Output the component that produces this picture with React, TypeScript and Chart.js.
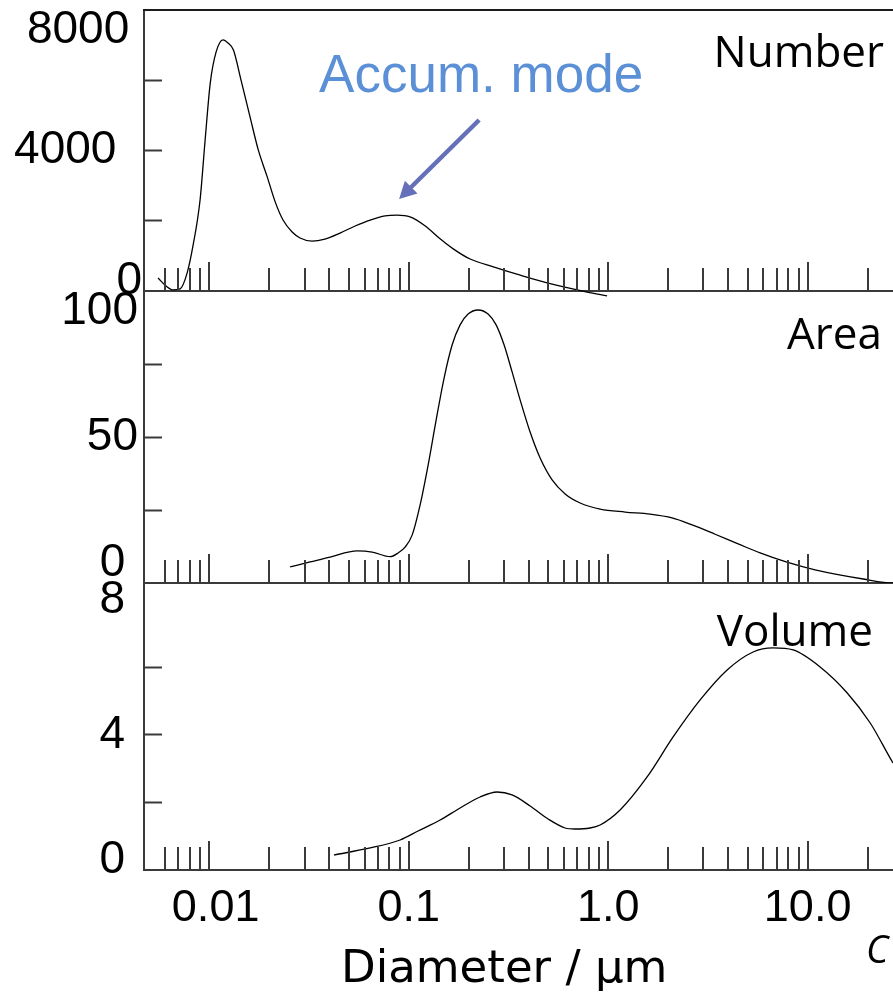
import React, { useEffect, useRef } from 'react';
import { Chart, registerables } from 'chart.js';

Chart.register(...registerables);

// ---------------- data ----------------
const X_MIN = 0.0047;
const X_MAX = 26.8;

const X_TICK_VALUES = [0.01, 0.1, 1, 10];
const X_TICK_LABELS = ['0.01', '0.1', '1.0', '10.0'];
const X_TITLE = 'Diameter / μm';

const PANEL_NAMES = ['Number', 'Area', 'Volume'];

// Number distribution (diameter in µm, count)
const NUMBER_DIAM = [0.00553, 0.00607, 0.00658, 0.00713, 0.00773, 0.00829, 0.00898, 0.00952, 0.0101, 0.0108,
  0.0117, 0.0124, 0.0132, 0.0144, 0.016, 0.0176, 0.0195, 0.0214, 0.0234, 0.026,
  0.0285, 0.0327, 0.038, 0.0452, 0.0538, 0.064, 0.0761, 0.0874, 0.1015, 0.121,
  0.144, 0.167, 0.203, 0.268, 0.362, 0.494, 0.784, 0.987];
const NUMBER_VAL = [370, 140, 30, 60, 510, 1310, 2590, 4300, 5920, 6800,
  7150, 7060, 6860, 6010, 4950, 4010, 3250, 2530, 2020, 1680,
  1510, 1420, 1480, 1650, 1850, 2020, 2140, 2160, 2110, 1850,
  1480, 1200, 910, 680, 450, 230, -30, -140];

// Area distribution
const AREA_DIAM = [0.0254, 0.032, 0.0403, 0.0551, 0.0655, 0.0806, 0.0884, 0.0958, 0.1039, 0.1139,
  0.125, 0.1371, 0.1503, 0.1649, 0.1808, 0.1983, 0.2226, 0.2498, 0.2741, 0.3006,
  0.3296, 0.3616, 0.4058, 0.4556, 0.5233, 0.608, 0.723, 0.911, 1.216, 1.623,
  2.092, 2.636, 3.437, 4.482, 5.78, 7.8, 10.9, 19.0, 26.8, 35];
const AREA_VAL = [5.5, 7.2, 8.9, 11.0, 10.6, 9.0, 10.3, 12.3, 16.4, 26.7,
  40.4, 55.8, 70.2, 81.5, 88.4, 92.1, 93.5, 92.1, 88.4, 81.5,
  72.3, 62.7, 51.7, 42.8, 35.3, 30.5, 27.4, 25.3, 24.3, 23.6,
  22.3, 19.9, 16.7, 13.4, 10.3, 7.2, 4.5, 1.37, 0, 0];

// Volume distribution
const VOLUME_DIAM = [0.0422, 0.064, 0.0905, 0.1113, 0.1436, 0.1808, 0.2278, 0.2773, 0.3296, 0.4058,
  0.4997, 0.608, 0.6815, 0.8102, 0.911, 1.147, 1.567, 2.116, 2.89, 3.948,
  5.33, 6.71, 8.46, 11.55, 15.8, 20.6, 26.8, 35];
const VOLUME_VAL = [0.444, 0.652, 0.889, 1.155, 1.481, 1.836, 2.162, 2.31, 2.222, 1.896,
  1.511, 1.244, 1.214, 1.244, 1.333, 1.777, 2.755, 3.94, 5.036, 5.924,
  6.457, 6.576, 6.517, 6.013, 5.243, 4.354, 3.169, 2.1];

// y axes
const NUMBER_Y_MAX = 8000;
const NUMBER_Y_STEP = 2000;
const NUMBER_Y_TICKS = [0, 4000, 8000];
const NUMBER_Y_LABELS = ['0', '4000', '8000'];

const AREA_Y_MAX = 100;
const AREA_Y_STEP = 25;
const AREA_Y_TICKS = [0, 50, 100];
const AREA_Y_LABELS = ['0', '50', '100'];

const VOLUME_Y_MAX = 8.5;
const VOLUME_Y_STEP = 2;
const VOLUME_Y_TICKS = [0, 4, 8];
const VOLUME_Y_LABELS = ['0', '4', '8'];

// annotation
const NOTE_TEXT = 'Accum. mode';
const NOTE_AT = [0.2305, 5666];
const ARROW_FROM = [0.2253, 4868];
const ARROW_TO = [0.0894, 2619];

// ---------------- styles ----------------
const AXIS_COLOR = '#3a3a3a';
const TOP_COLOR = '#1c1c1c';
const TICK_FONT = "'Liberation Sans', Arial, sans-serif";
const TITLE_FONT = "'DejaVu Sans', sans-serif";
const NAME_FONT = "'Open Sans', sans-serif";
const NOTE_FONT = "'Liberation Sans', Arial, sans-serif";
const NOTE_COLOR = '#5b8fd6';
const ARROW_COLOR = '#6670b8';
// leading spaces for x labels (horizontal nudge, as in the reference)
const X_LABEL_LEAD = [1, 0, 0, 0];

function xLabel(v: number): string {
  const i = X_TICK_VALUES.findIndex((t) => Math.abs(v / t - 1) < 1e-6);
  return i >= 0 ? ' '.repeat(X_LABEL_LEAD[i]) + X_TICK_LABELS[i] : '';
}

// vertical nudge: blank lines before (positive) / after (negative) move a label down / up;
// trailing spaces move a right-aligned label left
function nudge(text: string, n: number, trail: number): string | string[] {
  const t = text + ' '.repeat(trail);
  if (n === 0) return t;
  const blanks = Array(Math.abs(n)).fill('');
  return n > 0 ? [...blanks, t] : [t, ...blanks];
}

type Decor = { name: string; dx: number; dy: number; note?: boolean };

function makeDecor(d: Decor) {
  return {
    id: 'decor',
    afterDatasetsDraw(chart: any) {
      const { ctx, chartArea: ca, scales } = chart;
      const xs = scales.x;
      const ys = scales.y;
      ctx.save();
      // inward x tick marks at the panel baseline
      ctx.strokeStyle = AXIS_COLOR;
      ctx.lineWidth = 2;
      for (const t of xs.ticks) {
        const v = t.value;
        if (!(v > 0)) continue;
        const e = Math.floor(Math.log10(v) + 1e-9);
        const sig = v / Math.pow(10, e);
        const r = Math.round(sig);
        if (Math.abs(sig - r) > 1e-6 || r < 1 || r > 9) continue;
        const px = Math.round(xs.getPixelForValue(v));
        const len = r === 1 ? 29 : 23;
        ctx.beginPath();
        ctx.moveTo(px, ca.bottom);
        ctx.lineTo(px, ca.bottom - len);
        ctx.stroke();
      }
      // panel name
      ctx.fillStyle = '#000';
      ctx.font = `44px ${NAME_FONT}`;
      ctx.textAlign = 'right';
      ctx.textBaseline = 'alphabetic';
      ctx.fillText(d.name, ca.right - d.dx, ca.top + d.dy);
      if (d.note) {
        ctx.font = `53px ${NOTE_FONT}`;
        ctx.fillStyle = NOTE_COLOR;
        ctx.textAlign = 'center';
        ctx.fillText(NOTE_TEXT, xs.getPixelForValue(NOTE_AT[0]), ys.getPixelForValue(NOTE_AT[1]));
        const x1 = xs.getPixelForValue(ARROW_FROM[0]);
        const y1 = ys.getPixelForValue(ARROW_FROM[1]);
        const x2 = xs.getPixelForValue(ARROW_TO[0]);
        const y2 = ys.getPixelForValue(ARROW_TO[1]);
        const ang = Math.atan2(y2 - y1, x2 - x1);
        const head = 17;
        const hw = 9;
        const bx = x2 - head * Math.cos(ang);
        const by = y2 - head * Math.sin(ang);
        ctx.strokeStyle = ARROW_COLOR;
        ctx.lineWidth = 4.5;
        ctx.beginPath();
        ctx.moveTo(x1, y1);
        ctx.lineTo(bx + Math.cos(ang), by + Math.sin(ang));
        ctx.stroke();
        ctx.fillStyle = ARROW_COLOR;
        ctx.beginPath();
        ctx.moveTo(x2, y2);
        ctx.lineTo(bx + hw * Math.sin(ang), by - hw * Math.cos(ang));
        ctx.lineTo(bx - hw * Math.sin(ang), by + hw * Math.cos(ang));
        ctx.closePath();
        ctx.fill();
      }
      ctx.restore();
    },
  };
}

type Panel = {
  diam: number[];
  vals: number[];
  yMax: number;
  yStep: number;
  yTicks: number[];
  yLabels: string[];
  yNudge: number[];
  yTrail: number[];
  yPad: number;
  hidden: number[];
  showX: boolean;
  topBorder: boolean;
  clip?: boolean;
  padTop: number;
  padBottom: number;
  decor: Decor;
};

function makeConfig(p: Panel): any {
  const scales: any = {
    x: {
      type: 'logarithmic',
      min: X_MIN,
      max: X_MAX,
      position: 'bottom',
      grid: { display: false, drawTicks: false },
      border: { display: true, color: AXIS_COLOR, width: 2 },
      ticks: p.showX
        ? {
            display: true,
            autoSkip: false,
            maxRotation: 0,
            minRotation: 0,
            padding: 12,
            color: '#000',
            font: { family: TICK_FONT, size: 45 },
            callback: (v: number) => xLabel(Number(v)),
          }
        : { display: false },
      title: p.showX
        ? {
            display: true,
            text: X_TITLE + '  ',
            color: '#000',
            font: { family: TITLE_FONT, size: 45 },
            padding: { top: 0, bottom: 2 },
          }
        : { display: false },
      afterFit: (s: any) => {
        s.height = p.showX ? 129 : 0;
        s.paddingLeft = 0;
        s.paddingRight = 0;
      },
    },
    y: {
      type: 'linear',
      position: 'left',
      min: 0,
      max: p.yMax,
      ticks: {
        stepSize: p.yStep,
        includeBounds: false,
        autoSkip: false,
        padding: p.yPad,
        color: '#000',
        font: { family: TICK_FONT, size: 46, lineHeight: '20px' },
        callback: (v: number) => {
          const i = p.yTicks.indexOf(Number(v));
          return i >= 0 ? nudge(p.yLabels[i], p.yNudge[i], p.yTrail[i]) : '';
        },
      },
      grid: {
        display: true,
        drawOnChartArea: false,
        drawTicks: true,
        tickLength: -18,
        tickWidth: 2,
        tickColor: (c: any) =>
          c.tick && p.hidden.includes(c.tick.value) ? 'rgba(0,0,0,0)' : AXIS_COLOR,
      },
      border: { display: true, color: AXIS_COLOR, width: 2 },
      afterFit: (s: any) => {
        s.width = 144;
        s.paddingTop = 0;
        s.paddingBottom = 0;
      },
    },
  };
  if (p.topBorder) {
    scales.xTop = {
      type: 'logarithmic',
      min: X_MIN,
      max: X_MAX,
      position: 'top',
      grid: { display: false, drawTicks: false },
      border: { display: true, color: TOP_COLOR, width: 2 },
      ticks: { display: false },
      afterFit: (s: any) => {
        s.height = 0;
      },
    };
  }
  return {
    type: 'line',
    data: {
      datasets: [
        {
          data: p.diam.map((d, i) => ({ x: d, y: p.vals[i] })),
          borderColor: '#000',
          borderWidth: 1.3,
          pointRadius: 0,
          fill: false,
          cubicInterpolationMode: 'monotone',
          ...(p.clip === false ? { clip: false } : {}),
        },
      ],
    },
    options: {
      responsive: false,
      maintainAspectRatio: false,
      animation: false,
      events: [],
      layout: { padding: { top: p.padTop, bottom: p.padBottom, left: 0, right: 0 } },
      plugins: { legend: { display: false }, tooltip: { enabled: false } },
      scales,
    },
    plugins: [makeDecor(p.decor)],
  };
}

export default function App() {
  const r1 = useRef<HTMLCanvasElement>(null);
  const r2 = useRef<HTMLCanvasElement>(null);
  const r3 = useRef<HTMLCanvasElement>(null);

  useEffect(() => {
    const charts: Chart[] = [];
    charts.push(
      new Chart(
        r1.current as HTMLCanvasElement,
        makeConfig({
          diam: NUMBER_DIAM,
          vals: NUMBER_VAL,
          yMax: NUMBER_Y_MAX,
          yStep: NUMBER_Y_STEP,
          yTicks: NUMBER_Y_TICKS,
          yLabels: NUMBER_Y_LABELS,
          yNudge: [-1, 0, 2],
          yTrail: [0, 2, 1],
          yPad: 20,
          hidden: [0, NUMBER_Y_MAX],
          showX: false,
          topBorder: true,
          clip: false,
          padTop: 10,
          padBottom: 9,
          decor: { name: PANEL_NAMES[0], dx: 9, dy: 57, note: true },
        })
      )
    );
    charts.push(
      new Chart(
        r2.current as HTMLCanvasElement,
        makeConfig({
          diam: AREA_DIAM,
          vals: AREA_VAL,
          yMax: AREA_Y_MAX,
          yStep: AREA_Y_STEP,
          yTicks: AREA_Y_TICKS,
          yLabels: AREA_Y_LABELS,
          yNudge: [-2, 0, 2],
          yTrail: [1, 0, 0],
          yPad: 24,
          hidden: [0, AREA_Y_MAX],
          showX: false,
          topBorder: false,
          padTop: 10,
          padBottom: 8,
          decor: { name: PANEL_NAMES[1], dx: 11, dy: 58 },
        })
      )
    );
    charts.push(
      new Chart(
        r3.current as HTMLCanvasElement,
        makeConfig({
          diam: VOLUME_DIAM,
          vals: VOLUME_VAL,
          yMax: VOLUME_Y_MAX,
          yStep: VOLUME_Y_STEP,
          yTicks: VOLUME_Y_TICKS,
          yLabels: VOLUME_Y_LABELS,
          yNudge: [-1, 0, 0],
          yTrail: [0, 0, 0],
          yPad: 37,
          hidden: [0, 8],
          showX: true,
          topBorder: false,
          padTop: 10,
          padBottom: 0,
          decor: { name: PANEL_NAMES[2], dx: 20, dy: 63 },
        })
      )
    );
    return () => charts.forEach((c) => c.destroy());
  }, []);

  return (
    <div
      style={{
        position: 'fixed',
        left: 0,
        top: 0,
        width: 893,
        height: 999,
        overflow: 'hidden',
        background: '#fff',
      }}
    >
      <canvas ref={r1} width={893} height={300} style={{ position: 'absolute', left: 0, top: 0 }} />
      <canvas ref={r2} width={893} height={310} style={{ position: 'absolute', left: 0, top: 281 }} />
      <canvas ref={r3} width={893} height={426} style={{ position: 'absolute', left: 0, top: 573 }} />
      <div
        style={{
          position: 'absolute',
          left: 866,
          top: 929,
          font: "italic 38px 'Open Sans', sans-serif",
          lineHeight: '38px',
          color: '#000',
          whiteSpace: 'nowrap',
        }}
      >
        C
      </div>
    </div>
  );
}
